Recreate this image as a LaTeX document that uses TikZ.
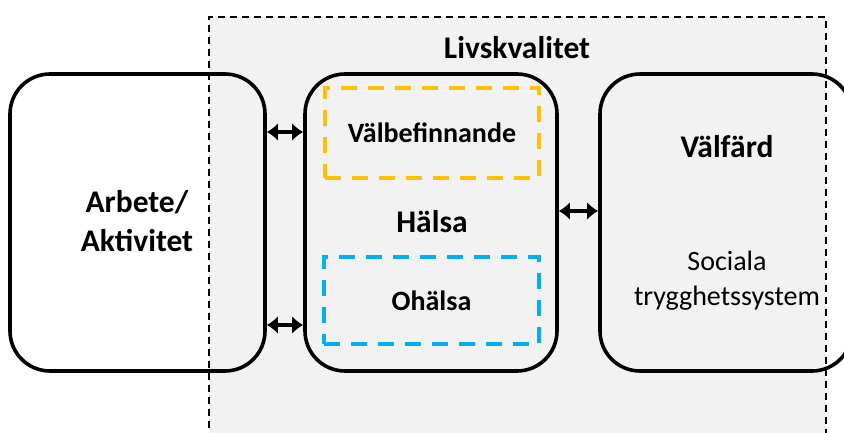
\documentclass[tikz,border=0pt]{standalone}
\usepackage{fontspec}
\setmainfont{Carlito}
\usetikzlibrary{arrows.meta}
\definecolor{bgrey}{HTML}{F2F2F2}
\definecolor{ygold}{HTML}{FFC000}
\definecolor{sblue}{HTML}{00B0F0}
\tikzset{
  bigbox/.style={draw=black, line width=3.6pt, rounded corners=40pt, minimum height=297pt, inner sep=0pt},
  dbox/.style={line width=3.6pt, dash pattern=on 16pt off 11pt, inner sep=0pt},
  lbl/.style={font=\fontsize{28}{34}\selectfont\bfseries, text=black, inner sep=0pt},
  biglbl/.style={font=\fontsize{31.5}{39}\selectfont\bfseries, text=black, inner sep=0pt, align=center},
  txt/.style={font=\fontsize{28}{35}\selectfont, text=black, inner sep=0pt, align=center},
  arr/.style={line width=4.5pt, {Latex[length=11pt,width=18pt]}-{Latex[length=11pt,width=18pt]}}
}
\begin{document}
\begin{tikzpicture}[x=1pt,y=-1pt]
\useasboundingbox (0,0) rectangle (844,433);
\clip (0,0) rectangle (844,433);
% grey region
\fill[bgrey] (209,17) rectangle (826,440);
% big boxes
\node[bigbox, minimum width=255pt] (arbete) at (137.5,222.5) {};
\node[bigbox, minimum width=252pt] (halsa) at (431,222.5) {};
\node[bigbox, minimum width=252pt] (valfard) at (726,222.5) {};
% dashed outer border
\draw[line width=1.4pt, dash pattern=on 7pt off 5pt] (209,440) -- (209,17) -- (826,17) -- (826,440);
% inner dashed boxes
\node[dbox, draw=ygold, minimum width=214pt, minimum height=90pt] (valbef) at (432,133) {};
\node[dbox, draw=sblue, minimum width=215pt, minimum height=87pt] (ohalsa) at (431.5,300.5) {};
% labels
\node[biglbl] (livs) at (517,48) {Livskvalitet};
\node[lbl] at (valbef) {Välbefinnande};
\node[biglbl] (halsalbl) at (432,222) {Hälsa};
\node[lbl] at (ohalsa) {Ohälsa};
\node[biglbl] at (137,221) {Arbete/\\Aktivitet};
\node[biglbl] (valfardlbl) at (727,147) {Välfärd};
\node[txt] at (727,281) {Sociala\\trygghetssystem};
% arrows
\coordinate (ya) at (0,132);
\coordinate (yb) at (0,325);
\coordinate (yc) at (0,211);
\draw[arr] (arbete.east |- ya) -- (halsa.west |- ya);
\draw[arr] (arbete.east |- yb) -- (halsa.west |- yb);
\draw[arr] (halsa.east |- yc) -- (valfard.west |- yc);
\end{tikzpicture}
\end{document}
